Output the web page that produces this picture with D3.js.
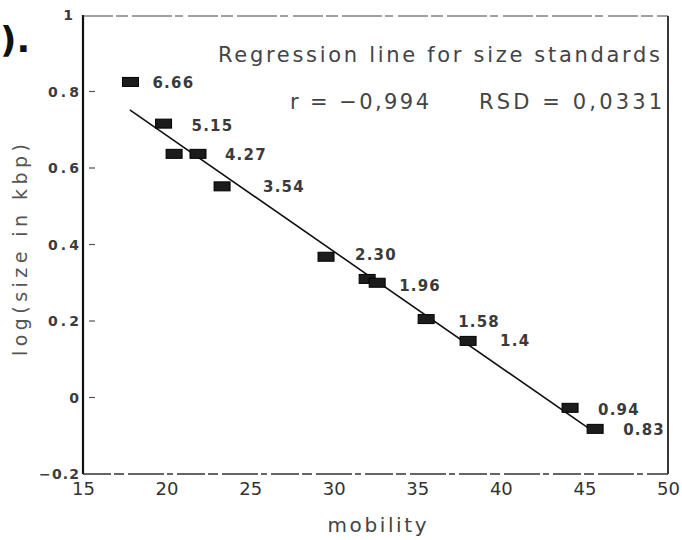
<!DOCTYPE html>
<html><head><meta charset="utf-8">
<script src="https://cdn.jsdelivr.net/npm/d3@7/dist/d3.min.js"></script>
<style>body{margin:0;background:#fff}</style>
</head><body>
<script>
// ---- data ----
const mobility = [17.84, 19.82, 20.45, 21.88, 23.32, 29.54, 32.0, 32.6, 35.53, 38.04, 44.14, 45.64];
const logSize  = [0.825, 0.716, 0.637, 0.637, 0.552, 0.368, 0.31, 0.30, 0.205, 0.148, -0.027, -0.082];
const sizeLabels = ["6.66", "5.15", "4.27", "3.54", "2.30", "1.96", "1.58", "1.4", "0.94", "0.83"];
const labelMarker = [0, 1, 3, 4, 5, 7, 8, 9, 10, 11];
const lineMobility = [17.8, 45.5];
const lineLog = [0.752, -0.088];
const xTicks = [15, 20, 25, 30, 35, 40, 45, 50];
const yTicks = [1, 0.8, 0.6, 0.4, 0.2, 0, -0.2];
const yTickText = ["1", "0.8", "0.6", "0.4", "0.2", "0", "\u22120.2"];
const title1 = "Regression line for size standards";
const statR = "r = \u22120,994";
const statRSD = "RSD = 0,0331";

// ---- layout ----
const labelDx = [22, 28, 27, 41, 29, 22, 32, 32, 28, 28];
const labelDy = [6, 7, 6, 6, 3, 8, 8, 5, 7, 6];

const W = 682, H = 540;
const L = 83, R = 668, T = 15, B = 474;
const svg = d3.select("body").append("svg").attr("width", W).attr("height", H)
  .style("font-family", "'DejaVu Sans', sans-serif");

const x = d3.scaleLinear().domain([15, 50]).range([L, R]);
const y = d3.scaleLinear().domain([-0.2, 1]).range([B, T]);

// frame
svg.append("line").attr("x1", L).attr("x2", L).attr("y1", T).attr("y2", B)
  .attr("stroke", "#111").attr("stroke-width", 2.2);
svg.append("line").attr("x1", R).attr("x2", R).attr("y1", T + 1).attr("y2", B)
  .attr("stroke", "#222").attr("stroke-width", 1.8);
svg.append("line").attr("x1", L).attr("x2", R).attr("y1", T + 1).attr("y2", T + 1)
  .attr("stroke", "#444").attr("stroke-width", 1.2).attr("stroke-dasharray", "30,3,12,4,40,3,8,5");
svg.append("line").attr("x1", L).attr("x2", R).attr("y1", B).attr("y2", B)
  .attr("stroke", "#333").attr("stroke-width", 1.4).attr("stroke-dasharray", "28,3,10,4,36,3,6,4");

// y tick labels
svg.append("g").selectAll("text").data(yTicks).join("text")
  .attr("x", d => d === 1 ? L - 10 : L - 4)
  .attr("y", d => y(d))
  .attr("dy", "0.36em")
  .attr("text-anchor", "end")
  .attr("font-family", "'DejaVu Sans', sans-serif")
  .attr("font-size", 14).attr("font-weight", "bold")
  .attr("fill", "#3c3c3c")
  .attr("textLength", (d, i) => yTickText[i].length === 1 ? null : (yTickText[i].length === 3 ? 31 : 40))
  .attr("lengthAdjust", "spacing")
  .text((d, i) => yTickText[i]);

// inner tick dashes
svg.append("g").selectAll("line").data(yTicks.filter(d => d > -0.2 && d < 1)).join("line")
  .attr("x1", L + 6).attr("x2", L + 12).attr("y1", d => y(d)).attr("y2", d => y(d))
  .attr("stroke", "#555").attr("stroke-width", 1.2);

// x axis labels
const xAxis = d3.axisBottom(x).tickValues(xTicks).tickSize(0).tickPadding(8)
  .tickFormat(d3.format("d"));
const gx = svg.append("g").attr("transform", `translate(0,${B})`).call(xAxis);
gx.select(".domain").remove();
gx.attr("font-size", 18).attr("font-family", "'DejaVu Sans', sans-serif");
gx.selectAll("text").style("font-size", "18px").attr("fill", "#333");

// axis titles
svg.append("text").attr("transform", "translate(27,250) rotate(-90)")
  .attr("text-anchor", "middle").attr("font-size", 19).attr("fill", "#555")
  .attr("textLength", 212).attr("lengthAdjust", "spacing").text("log(size in kbp)");
svg.append("text").attr("x", 377).attr("y", 532).attr("text-anchor", "middle")
  .attr("font-size", 20).attr("fill", "#444").attr("textLength", 99)
  .attr("lengthAdjust", "spacing").text("mobility");

// stray text from page
svg.append("text").attr("x", 0).attr("y", 52).attr("font-size", 36).attr("font-weight", "bold")
  .attr("fill", "#111").text(").");

// annotations
svg.append("text").attr("x", 218).attr("y", 62).attr("font-size", 21).attr("fill", "#444")
  .attr("textLength", 442).attr("lengthAdjust", "spacing").text(title1);
svg.append("text").attr("x", 290).attr("y", 109).attr("font-size", 21).attr("fill", "#444")
  .attr("textLength", 139).attr("lengthAdjust", "spacing").text(statR);
svg.append("text").attr("x", 479).attr("y", 109).attr("font-size", 21).attr("fill", "#444")
  .attr("textLength", 183).attr("lengthAdjust", "spacing").text(statRSD);

// regression line
const line = d3.line().x(d => x(d[0])).y(d => y(d[1]));
svg.append("path").datum(lineMobility.map((m, i) => [m, lineLog[i]]))
  .attr("d", line).attr("fill", "none").attr("stroke", "#111").attr("stroke-width", 1.6);

// markers
const mw = 16, mh = 9;
svg.append("g").selectAll("rect").data(mobility.map((m, i) => [m, logSize[i]])).join("rect")
  .attr("x", d => x(d[0]) - mw / 2).attr("y", d => y(d[1]) - mh / 2)
  .attr("width", mw).attr("height", mh)
  .attr("fill", "#1c1c1c").attr("stroke", "#000").attr("stroke-width", 1);

// size labels
svg.append("g").selectAll("text").data(sizeLabels).join("text")
  .attr("x", (d, i) => x(mobility[labelMarker[i]]) + labelDx[i])
  .attr("y", (d, i) => y(logSize[labelMarker[i]]) + labelDy[i])
  .attr("font-size", 15).attr("font-weight", "bold").attr("fill", "#3a3a3a")
  .attr("letter-spacing", 1.2).text(d => d);
</script>
</body></html>
